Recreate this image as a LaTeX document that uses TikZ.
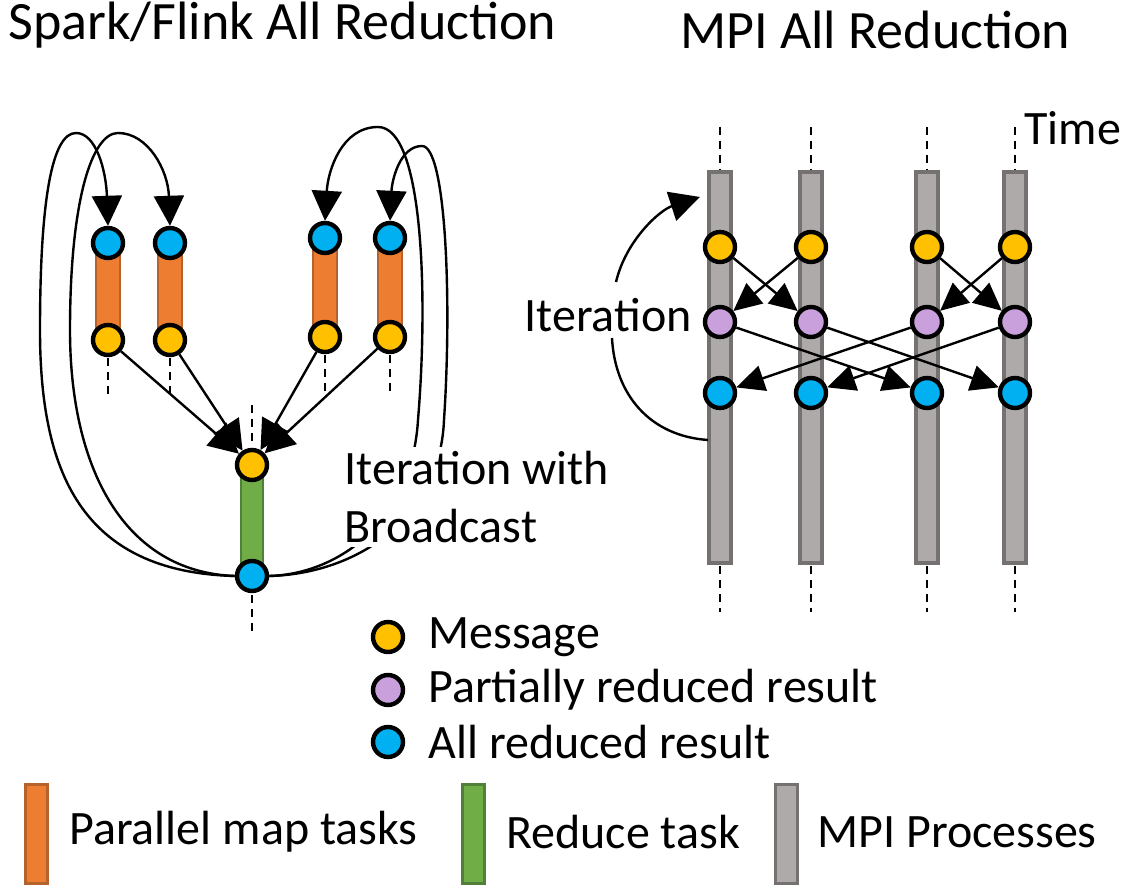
\documentclass[tikz,border=0pt]{standalone}
\usepackage{fontspec}
\setmainfont{Carlito}
\usetikzlibrary{arrows.meta}
\definecolor{msgcolor}{HTML}{FFC000}
\definecolor{allcolor}{HTML}{00B0F0}
\definecolor{partcolor}{HTML}{C9A0DC}
\definecolor{mapfill}{HTML}{ED7D31}
\definecolor{mapdraw}{HTML}{B5622C}
\definecolor{redfill}{HTML}{70AD47}
\definecolor{reddraw}{HTML}{50803A}
\definecolor{mpifill}{HTML}{AEAAAA}
\definecolor{mpidraw}{HTML}{767171}
\tikzset{
  dot/.style = {circle, draw = black, line width = 2.2pt, minimum size = 15pt, inner sep = 0pt},
  msgdot/.style = {dot, fill = msgcolor},
  alldot/.style = {dot, fill = allcolor},
  partdot/.style = {dot, fill = partcolor},
  bigtip/.style = {line width = 1.2pt, -{Triangle[length = 15pt, width = 15pt]}},
  midtip/.style = {line width = 1.2pt, -{Triangle[length = 14pt, width = 13pt]}},
  timeline/.style = {line width = 1pt, dash pattern = on 4pt off 3pt},
  txt/.style = {font = \fontsize{24}{29}\selectfont, inner sep = 0pt, anchor = west},
  titletxt/.style = {font = \fontsize{27}{32}\selectfont, inner sep = 0pt, anchor = west}
}
\begin{document}
\begin{tikzpicture}[x = 0.5pt, y = -0.5pt]
\useasboundingbox (0,0) rectangle (1131,886);
\node[titletxt] (sparktitle) at (8,25) {Spark/Flink All Reduction};
\node[titletxt] (mpititle) at (680,30) {MPI All Reduction};
\foreach \i/\x/\yt/\yb in {1/108/243/340, 2/170/243/340, 3/325/238/337, 4/390/238/337} {
  \draw[fill = mapfill, draw = mapdraw, line width = 1.3pt] (\x-12,\yt) rectangle (\x+12,\yb);
  \draw[timeline] (\x,\yb+18) -- (\x,395);
  \node[alldot] (mt\i) at (\x,\yt) {};
  \node[msgdot] (mb\i) at (\x,\yb) {};
}
\draw[fill = redfill, draw = reddraw, line width = 1.3pt] (241,465) rectangle (263,576);
\draw[timeline] (252,405) -- (252,446);
\draw[timeline] (252,595) -- (252,636);
\node[msgdot] (r1) at (252,465) {};
\node[alldot] (r2) at (252,576) {};
\foreach \i in {1,...,4} \draw[bigtip] (mb\i) -- (r1);
\draw[bigtip] (r2.west) .. controls (80,572) and (40,470) .. (40,330) .. controls (40,200) and (52,133) .. (76,133) .. controls (96,133) and (106,170) .. (mt1.north);
\draw[bigtip] (r2.west) .. controls (125,572) and (70,470) .. (70,330) .. controls (70,200) and (92,133) .. (118,133) .. controls (148,133) and (168,170) .. (mt2.north);
\draw[bigtip] (r2.east) .. controls (340,574) and (412,520) .. (418,420) .. controls (428,300) and (424,127) .. (378,127) .. controls (342,127) and (328,170) .. (mt3.north);
\draw[bigtip] (r2.east) .. controls (355,574) and (440,520) .. (444,420) .. controls (452,300) and (446,146) .. (422,146) .. controls (400,146) and (392,180) .. (mt4.north);
\node[txt, fill = white, align = left, inner sep = 2pt] (bcastlab) at (340,497) {Iteration with\\Broadcast};
\foreach \i/\x in {1/720, 2/811, 3/927, 4/1015} {
  \draw[timeline] (\x,127) -- (\x,170);
  \draw[timeline] (\x,566) -- (\x,612);
  \draw[fill = mpifill, draw = mpidraw, line width = 2pt] (\x-11,172) rectangle (\x+11,563);
  \node[msgdot] (p\i) at (\x,247) {};
  \node[partdot] (q\i) at (\x,322) {};
  \node[alldot] (s\i) at (\x,393) {};
}
\draw[midtip] (p1) -- (q2);
\draw[midtip] (p2) -- (q1);
\draw[midtip] (p3) -- (q4);
\draw[midtip] (p4) -- (q3);
\draw[midtip] (q1) -- (s3);
\draw[midtip] (q2) -- (s4);
\draw[midtip] (q3) -- (s1);
\draw[midtip] (q4) -- (s2);
\node[txt] (timelab) at (1024,128) {Time};
\node[txt] (iterlab) at (524,315) {Iteration};
\coordinate (itertip) at (700,197);
\coordinate (iterend) at (708,440);
\draw[bigtip] (616,282) .. controls (626,240) and (660,210) .. (itertip);
\draw[line width = 1.2pt] (612,338) .. controls (615,395) and (650,436) .. (iterend);
\node[msgdot] (legmsg) at (388,637) {};
\node[partdot] (legpart) at (388,690) {};
\node[alldot] (legall) at (388,742) {};
\node[txt] (legmsglab) at (428,637) {Message};
\node[txt] (legpartlab) at (428,690) {Partially reduced result};
\node[txt] (legalllab) at (428,742) {All reduced result};
\draw[fill = mapfill, draw = mapdraw, line width = 1.5pt] (25,785) rectangle (47,884);
\draw[fill = redfill, draw = reddraw, line width = 1.5pt] (462,785) rectangle (484,884);
\draw[fill = mpifill, draw = mpidraw, line width = 1.5pt] (775,785) rectangle (797,884);
\node[txt] (legmaplab) at (69,832) {Parallel map tasks};
\node[txt] (legredlab) at (506,832) {Reduce task};
\node[txt] (legmpilab) at (817,832) {MPI Processes};
\end{tikzpicture}
\end{document}
